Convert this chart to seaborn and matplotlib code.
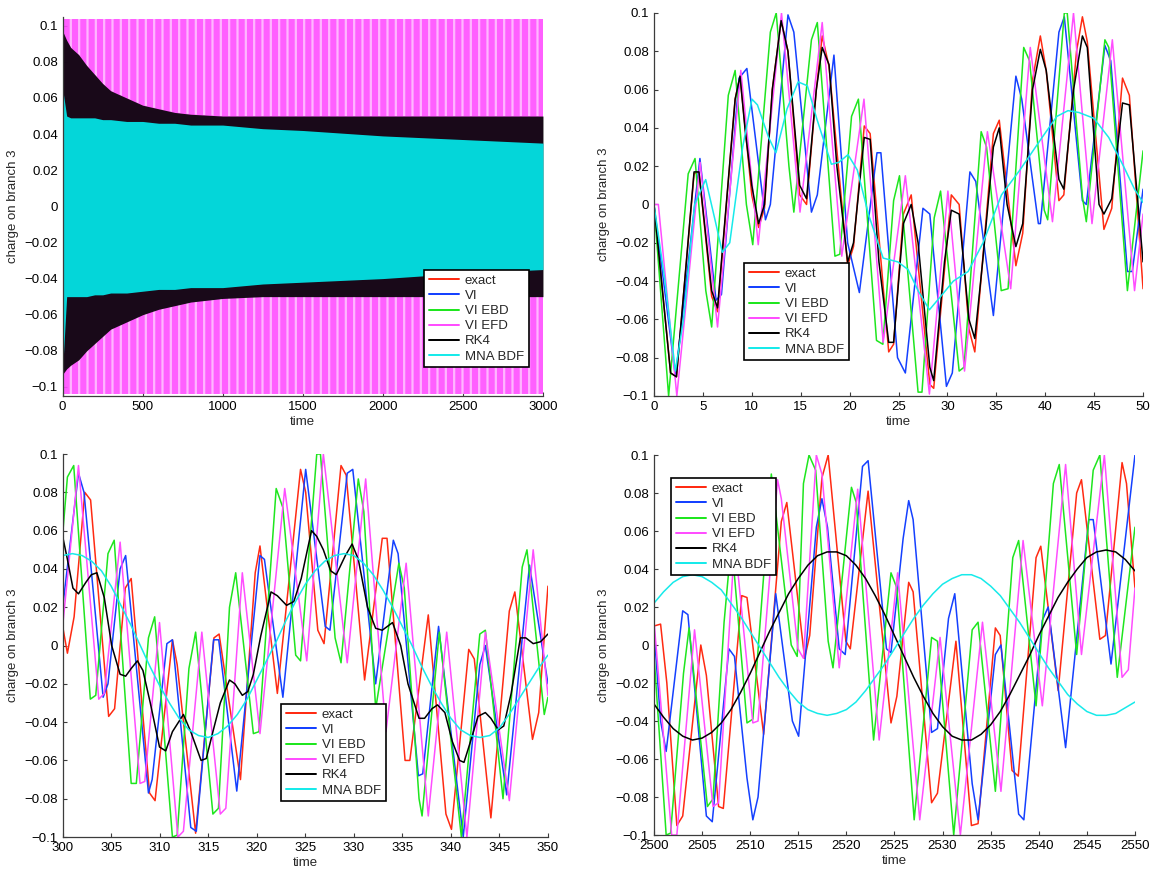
import numpy as np
import pandas as pd
import matplotlib
matplotlib.use("Agg")
import matplotlib.pyplot as plt
from matplotlib.lines import Line2D
import seaborn as sns

# ---------------- data ----------------
series_names = ["exact", "VI", "VI EBD", "VI EFD", "RK4", "MNA BDF"]
series_colors = ["#ff2a12", "#1440ff", "#1ee61e", "#ff4dff", "#000000", "#17eaea"]

y_ticks = [-0.1, -0.08, -0.06, -0.04, -0.02, 0.0, 0.02, 0.04, 0.06, 0.08, 0.1]
y_tick_labels = ["\u22120.1", "\u22120.08", "\u22120.06", "\u22120.04", "\u22120.02", "0",
                 "0.02", "0.04", "0.06", "0.08", "0.1"]
tl_x_ticks = [0, 500, 1000, 1500, 2000, 2500, 3000]
tr_x_ticks = [0, 5, 10, 15, 20, 25, 30, 35, 40, 45, 50]
bl_x_ticks = [300, 305, 310, 315, 320, 325, 330, 335, 340, 345, 350]
br_x_ticks = [2500, 2505, 2510, 2515, 2520, 2525, 2530, 2535, 2540, 2545, 2550]

# --- panel 1 (0..3000): only the envelopes of the dense oscillations are readable
tl_time = [0, 25, 50, 100, 150, 200, 250, 300, 400, 500, 600, 700, 800, 1000, 1250, 1500, 2000, 2500, 3000]
tl_efd_hi = [0.104] * 19
tl_efd_lo = [-0.104] * 19
tl_rk4_hi = [0.097, 0.092, 0.088, 0.084, 0.078, 0.073, 0.068, 0.064, 0.060, 0.056, 0.054, 0.052, 0.051,
             0.050, 0.050, 0.050, 0.050, 0.050, 0.050]
tl_rk4_lo = [-0.093, -0.090, -0.088, -0.085, -0.080, -0.076, -0.072, -0.068, -0.064, -0.060, -0.057, -0.055,
             -0.053, -0.051, -0.050, -0.050, -0.050, -0.050, -0.050]
tl_mna_hi = [0.065, 0.050, 0.049, 0.049, 0.049, 0.049, 0.048, 0.048, 0.047, 0.047, 0.046, 0.046, 0.045,
             0.045, 0.043, 0.042, 0.039, 0.037, 0.035]
tl_mna_lo = [-0.090, -0.050, -0.050, -0.050, -0.050, -0.049, -0.049, -0.048, -0.048, -0.047, -0.046, -0.046,
             -0.045, -0.045, -0.043, -0.042, -0.040, -0.037, -0.035]

# --- panel 2 (0..50): (time, charge) vertices
tr_exact = [(0, 0), (1.7, -0.088), (2.3, -0.090), (4.1, 0.016), (4.6, 0.017), (5.9, -0.048), (6.5, -0.056),
            (8.3, 0.055), (8.8, 0.067), (10.0, 0.005), (10.7, -0.012), (11.3, -0.002), (12.1, 0.060),
            (13.0, 0.096), (13.7, 0.080), (14.9, 0.005), (15.6, 0.000), (16.6, 0.060), (17.2, 0.088),
            (17.9, 0.072), (19.8, -0.032), (20.4, -0.022), (21.5, 0.041), (22.1, 0.037), (24.0, -0.077),
            (24.5, -0.073), (25.5, -0.005), (26.3, 0.005), (28.2, -0.094), (28.6, -0.096), (30.4, 0.005),
            (31.2, 0.000), (32.2, -0.065), (32.8, -0.077), (34.7, 0.037), (35.3, 0.044), (37.0, -0.032),
            (37.7, -0.015), (38.7, 0.065), (39.5, 0.088), (40.1, 0.070), (41.4, 0.002), (41.9, 0.005),
            (43.2, 0.080), (43.8, 0.098), (44.3, 0.085), (46.0, -0.013), (46.8, -0.002), (47.9, 0.066),
            (48.6, 0.057), (50, -0.044)]
tr_vi = [(0, 0), (2.2, -0.090), (4.7, 0.024), (6.35, -0.050), (6.9, -0.047), (8.7, 0.066), (9.5, 0.071),
         (11.4, -0.008), (11.9, 0.000), (13.7, 0.099), (14.3, 0.090), (16.1, -0.004), (16.7, 0.005),
         (18.4, 0.078), (19.8, -0.020), (21.0, -0.046), (22.8, 0.027), (23.2, 0.027), (24.9, -0.080),
         (25.7, -0.088), (27.5, -0.002), (28.2, -0.005), (29.9, -0.095), (30.5, -0.088), (32.3, 0.017),
         (32.9, 0.012), (34.7, -0.058), (37.0, 0.067), (37.6, 0.055), (39.3, -0.010), (39.5, -0.010),
         (41.4, 0.090), (41.95, 0.098), (43.8, 0.002), (44.2, 0.000), (46.1, 0.083), (46.7, 0.075),
         (48.4, -0.035), (48.9, -0.035), (50, 0.008)]
tr_ebd = [(0, 0), (1.5, -0.100), (3.5, 0.016), (4.2, 0.024), (5.3, -0.045), (5.9, -0.064), (7.6, 0.057),
          (8.3, 0.070), (9.45, 0.000), (10.1, -0.021), (11.9, 0.090), (12.5, 0.100), (13.8, 0.020),
          (14.3, -0.004), (16.1, 0.086), (16.7, 0.095), (18.5, -0.027), (19.0, -0.026), (20.2, 0.046),
          (20.9, 0.055), (22.75, -0.071), (23.4, -0.073), (24.5, 0.002), (25.1, 0.015), (27.0, -0.098),
          (27.4, -0.098), (28.65, -0.007), (29.3, 0.007), (31.2, -0.087), (31.7, -0.085), (33.45, 0.038),
          (34.0, 0.030), (35.5, -0.045), (36.2, -0.044), (37.8, 0.082), (38.4, 0.075), (39.9, -0.003),
          (40.25, -0.008), (41.95, 0.100), (42.25, 0.100), (43.8, 0.004), (44.2, -0.009), (46.1, 0.086),
          (46.5, 0.082), (48.4, -0.045), (50, 0.028)]
tr_efd = [(0, 0), (0.45, 0), (2.34, -0.100), (4.72, 0.022), (6.5, -0.064), (8.88, 0.070), (10.66, -0.021),
          (13.04, 0.100), (14.93, -0.004), (17.2, 0.095), (19.2, -0.027), (21.47, 0.055), (23.43, -0.072),
          (25.7, 0.015), (28.16, -0.099), (30.05, 0.007), (31.75, -0.087), (34.09, 0.038), (36.47, -0.044),
          (38.47, 0.082), (40.74, -0.009), (42.89, 0.100), (44.78, -0.010), (46.86, 0.086), (49.13, -0.045),
          (50, -0.005)]
tr_rk4 = [(0, 0), (1.7, -0.088), (2.3, -0.090), (4.1, 0.017), (4.6, 0.017), (5.9, -0.045), (6.5, -0.054),
          (8.3, 0.055), (8.8, 0.067), (9.3, 0.040), (10.0, 0.010), (10.7, -0.010), (11.3, 0.000),
          (12.1, 0.060), (13.0, 0.096), (13.7, 0.080), (14.9, 0.010), (15.6, 0.003), (16.6, 0.060),
          (17.2, 0.082), (17.9, 0.073), (18.7, 0.020), (19.8, -0.030), (20.4, -0.020), (21.5, 0.035),
          (22.1, 0.034), (23.0, -0.030), (24.0, -0.072), (24.5, -0.072), (25.5, -0.010), (26.3, 0.000),
          (27.0, -0.020), (28.2, -0.085), (28.6, -0.092), (29.7, -0.030), (30.4, -0.003), (31.2, -0.005),
          (32.2, -0.060), (32.8, -0.070), (33.6, -0.030), (34.7, 0.030), (35.3, 0.040), (36.1, 0.000),
          (37.0, -0.022), (37.7, -0.010), (38.7, 0.060), (39.5, 0.081), (40.1, 0.070), (41.4, 0.013),
          (41.9, 0.008), (42.9, 0.060), (43.8, 0.088), (44.3, 0.082), (45.5, 0.000), (46.0, -0.005),
          (46.8, 0.003), (47.9, 0.053), (48.6, 0.052), (50, -0.030)]
tr_mna = [(0, 0), (1.13, -0.040), (2.19, -0.087), (3.02, -0.060), (4.16, 0.000), (5.29, 0.013),
          (6.24, -0.008), (6.99, -0.025), (7.75, -0.020), (9.07, 0.030), (10.02, 0.055), (10.58, 0.052),
          (11.72, 0.035), (12.47, 0.027), (13.61, 0.050), (14.74, 0.064), (15.68, 0.062), (16.63, 0.045),
          (18.14, 0.021), (18.9, 0.022), (19.84, 0.026), (20.79, 0.018), (21.92, -0.005), (23.43, -0.028),
          (24.94, -0.030), (25.98, -0.034), (27.0, -0.045), (28.16, -0.055), (29.48, -0.047),
          (30.61, -0.040), (32.12, -0.035), (33.64, -0.020), (35.53, 0.005), (37.41, 0.018), (39.68, 0.035),
          (41.19, 0.046), (42.33, 0.049), (43.46, 0.048), (44.97, 0.045), (46.49, 0.035), (48.0, 0.020),
          (49.13, 0.008), (50, 0.001)]

# --- panel 3 (300..350)
bl_exact = [(300, 0.010), (300.49, -0.004), (301.18, 0.015), (302.28, 0.080), (302.88, 0.076),
            (304.74, -0.037), (305.35, -0.033), (306.45, 0.030), (307.06, 0.035), (308.95, -0.077),
            (309.52, -0.081), (311.31, 0.003), (311.8, -0.010), (313.7, -0.098), (315.59, 0.004),
            (316.12, 0.006), (318.32, -0.070), (319.84, 0.038), (320.33, 0.052), (322.12, -0.025),
            (324.51, 0.092), (325.04, 0.080), (326.29, 0.008), (326.93, 0.001), (328.68, 0.094),
            (329.21, 0.089), (331.11, -0.018), (332.93, 0.056), (333.42, 0.056), (335.28, -0.060),
            (335.77, -0.060), (337.67, 0.016), (339.49, -0.088), (340.06, -0.096), (341.84, -0.002),
            (342.41, -0.007), (344.12, -0.090), (346.02, 0.018), (346.59, 0.028), (348.41, -0.049),
            (349.05, -0.035), (350, 0.031)]
bl_vi = [(300, 0.020), (301.63, 0.090), (302.2, 0.080), (304.17, -0.027), (304.67, -0.020), (305.92, 0.040),
         (306.49, 0.047), (308.84, -0.077), (309.22, -0.070), (310.74, 0.001), (311.31, 0.003),
         (313.2, -0.095), (313.77, -0.097), (315.55, 0.003), (316.08, 0.003), (317.94, -0.076),
         (320.33, 0.047), (320.79, 0.045), (322.69, -0.027), (325.04, 0.092), (327.05, 0.010),
         (327.54, 0.008), (329.32, 0.090), (329.89, 0.092), (332.25, -0.020), (334.07, 0.055),
         (334.56, 0.048), (336.65, -0.068), (337.1, -0.067), (338.73, 0.010), (341.27, -0.100),
         (342.98, -0.010), (343.55, 0.000), (345.75, -0.078), (348.1, 0.042), (350, -0.020)]
bl_ebd = [(300, 0.058), (300.49, 0.088), (301.14, 0.094), (302.85, -0.028), (303.41, -0.026), (304.67, 0.048),
          (305.31, 0.055), (307.06, -0.072), (307.59, -0.072), (308.84, 0.004), (309.48, 0.015),
          (311.31, -0.100), (311.8, -0.099), (313.01, -0.012), (313.7, 0.007), (315.48, -0.088),
          (316.05, -0.085), (317.19, 0.020), (317.83, 0.038), (319.65, -0.046), (320.22, -0.045),
          (322.0, 0.082), (322.69, 0.072), (324.01, -0.005), (324.51, -0.008), (326.18, 0.100),
          (326.56, 0.100), (328.07, 0.004), (328.68, -0.009), (330.46, 0.087), (331.03, 0.070),
          (332.25, -0.033), (334.64, 0.043), (335.2, 0.030), (336.72, -0.080), (337.03, -0.089),
          (338.81, 0.007), (341.08, -0.100), (342.98, 0.006), (343.55, 0.008), (345.37, -0.080),
          (347.35, 0.041), (347.84, 0.050), (349.62, -0.036), (350, -0.027)]
bl_efd = [(300, 0.010), (301.63, 0.094), (303.72, -0.028), (304.29, -0.025), (305.92, 0.054), (307.97, -0.072),
          (308.46, -0.071), (309.98, 0.012), (311.87, -0.100), (312.44, -0.097), (314.34, 0.007),
          (316.24, -0.088), (316.81, -0.085), (318.51, 0.038), (320.33, -0.046), (322.88, 0.082),
          (325.15, -0.008), (326.86, 0.100), (329.32, -0.009), (331.22, 0.087), (333.31, -0.045),
          (335.39, 0.043), (337.67, -0.089), (339.57, 0.007), (341.65, -0.100), (343.55, 0.007),
          (346.02, -0.081), (348.48, 0.050), (350, -0.026)]
bl_rk4 = [(300, 0.057), (300.49, 0.045), (301.06, 0.030), (301.63, 0.027), (302.39, 0.033), (302.96, 0.037),
          (303.53, 0.038), (304.29, 0.025), (305.05, 0.000), (305.92, -0.015), (306.49, -0.016),
          (307.06, -0.012), (307.7, -0.008), (308.27, -0.013), (309.03, -0.030), (309.98, -0.053),
          (310.62, -0.055), (311.31, -0.045), (312.44, -0.036), (313.2, -0.045), (314.26, -0.060),
          (314.8, -0.059), (315.48, -0.045), (316.24, -0.030), (317.19, -0.018), (317.75, -0.020),
          (318.51, -0.026), (319.08, -0.024), (319.65, -0.015), (320.41, 0.005), (321.47, 0.028),
          (322.12, 0.026), (323.07, 0.021), (323.82, 0.023), (324.58, 0.035), (325.64, 0.060),
          (326.18, 0.057), (326.86, 0.050), (327.62, 0.039), (328.19, 0.037), (329.13, 0.047),
          (329.82, 0.053), (330.46, 0.045), (331.41, 0.020), (332.25, 0.009), (332.93, 0.008),
          (333.99, 0.012), (334.83, 0.000), (335.58, -0.020), (336.72, -0.038), (337.29, -0.038),
          (338.05, -0.033), (338.62, -0.031), (339.38, -0.035), (340.14, -0.050), (340.9, -0.060),
          (341.35, -0.061), (342.03, -0.050), (342.79, -0.037), (343.55, -0.035), (344.12, -0.038),
          (344.88, -0.044), (345.45, -0.042), (346.21, -0.025), (347.16, 0.004), (347.72, 0.004),
          (348.48, 0.001), (349.24, 0.002), (350, 0.006)]
bl_mna_t = [300, 301, 302, 303, 304, 305, 306, 307, 308, 309, 310, 311, 312, 313, 314, 315, 316, 317,
            318, 319, 320, 321, 322, 323, 324, 325, 326, 327, 328, 329, 330, 331, 332, 333, 334, 335,
            336, 337, 338, 339, 340, 341, 342, 343, 344, 345, 346, 347, 348, 349, 350]
bl_mna_v = [0.047, 0.048, 0.047, 0.044, 0.039, 0.031, 0.021, 0.011, 0.000, -0.011, -0.021, -0.030, -0.038,
            -0.044, -0.047, -0.048, -0.046, -0.042, -0.036, -0.028, -0.018, -0.008, 0.002, 0.013, 0.023,
            0.032, 0.039, 0.044, 0.047, 0.048, 0.047, 0.043, 0.037, 0.029, 0.020, 0.010, 0.000, -0.011,
            -0.021, -0.030, -0.038, -0.044, -0.047, -0.048, -0.047, -0.043, -0.036, -0.028, -0.020,
            -0.012, -0.005]

# --- panel 4 (2500..2550)
br_exact = [(2500, 0.010), (2500.69, 0.011), (2501.34, -0.020), (2502.38, -0.095), (2502.99, -0.090),
            (2504.87, 0.000), (2505.45, -0.016), (2506.72, -0.085), (2507.21, -0.086), (2509.13, 0.026),
            (2509.67, 0.025), (2511.4, -0.047), (2513.24, 0.065), (2513.81, 0.075), (2515.66, -0.007),
            (2516.19, 0.005), (2517.46, 0.088), (2518.11, 0.100), (2519.95, 0.002), (2520.41, -0.002),
            (2522.26, 0.081), (2524.64, -0.041), (2525.25, -0.027), (2526.48, 0.033), (2526.94, 0.028),
            (2528.86, -0.083), (2529.47, -0.078), (2531.39, 0.002), (2533.0, -0.095), (2533.69, -0.094),
            (2535.49, 0.009), (2535.99, 0.005), (2537.22, -0.066), (2537.87, -0.069), (2539.72, 0.046),
            (2540.21, 0.052), (2542.02, -0.024), (2543.94, 0.080), (2544.44, 0.087), (2546.35, 0.003),
            (2546.93, 0.005), (2548.66, 0.096), (2549.12, 0.085), (2550, 0.030)]
br_vi = [(2500, 0.008), (2500.69, -0.040), (2501.27, -0.056), (2502.99, 0.018), (2503.53, 0.016),
         (2505.45, -0.090), (2506.06, -0.093), (2507.79, -0.002), (2508.37, -0.006), (2509.67, -0.070),
         (2510.28, -0.092), (2510.82, -0.080), (2512.66, 0.027), (2514.39, -0.040), (2515.04, -0.048),
         (2516.88, 0.062), (2517.46, 0.077), (2518.04, 0.062), (2519.26, -0.002), (2519.88, -0.005),
         (2521.68, 0.094), (2522.26, 0.097), (2524.17, -0.002), (2524.64, -0.004), (2525.9, 0.056),
         (2526.48, 0.076), (2526.94, 0.066), (2528.86, -0.046), (2529.47, -0.044), (2530.62, 0.014),
         (2531.27, 0.027), (2533.08, -0.073), (2533.69, -0.092), (2535.49, -0.005), (2536.07, 0.000),
         (2537.91, -0.089), (2538.45, -0.092), (2540.37, 0.013), (2540.98, 0.020), (2542.79, -0.054),
         (2545.2, 0.066), (2545.66, 0.066), (2547.51, -0.010), (2550, 0.100)]
br_ebd = [(2500, -0.005), (2501.27, -0.100), (2501.73, -0.099), (2503.07, -0.015), (2503.65, 0.009),
          (2505.56, -0.085), (2506.14, -0.081), (2507.29, 0.012), (2508.06, 0.055), (2509.67, -0.041),
          (2510.28, -0.039), (2512.2, 0.090), (2514.27, 0.000), (2514.89, -0.006), (2515.54, 0.085),
          (2516.12, 0.100), (2516.81, 0.092), (2518.11, 0.002), (2518.61, -0.012), (2520.53, 0.083),
          (2521.03, 0.075), (2522.83, -0.050), (2524.64, 0.038), (2525.25, 0.030), (2527.05, -0.092),
          (2528.86, 0.004), (2529.47, 0.002), (2531.16, -0.100), (2533.08, 0.008), (2533.69, 0.012),
          (2535.49, -0.077), (2537.3, 0.046), (2537.91, 0.055), (2539.72, -0.032), (2541.52, 0.085),
          (2542.13, 0.095), (2543.94, -0.005), (2545.66, 0.092), (2546.35, 0.100), (2548.16, -0.017),
          (2550, 0.062)]
br_efd = [(2500, 0.013), (2501.84, -0.100), (2502.38, -0.100), (2504.22, 0.008), (2506.14, -0.085),
          (2506.72, -0.083), (2508.4, 0.055), (2510.28, -0.041), (2510.82, -0.040), (2512.85, 0.087),
          (2513.24, 0.077), (2514.97, -0.002), (2515.54, -0.007), (2516.88, 0.100), (2517.46, 0.090),
          (2519.26, -0.012), (2521.18, 0.082), (2523.41, -0.050), (2525.33, 0.038), (2527.63, -0.092),
          (2529.74, 0.004), (2531.85, -0.100), (2534.15, 0.012), (2536.07, -0.077), (2538.37, 0.055),
          (2540.37, -0.032), (2542.79, 0.095), (2544.44, -0.005), (2546.82, 0.100), (2548.66, -0.017),
          (2549.31, -0.013), (2550, 0.030)]
br_smooth_t = [2500, 2501, 2502, 2503, 2504, 2505, 2506, 2507, 2508, 2509, 2510, 2511, 2512, 2513, 2514,
               2515, 2516, 2517, 2518, 2519, 2520, 2521, 2522, 2523, 2524, 2525, 2526, 2527, 2528, 2529,
               2530, 2531, 2532, 2533, 2534, 2535, 2536, 2537, 2538, 2539, 2540, 2541, 2542, 2543, 2544,
               2545, 2546, 2547, 2548, 2549, 2550]
br_rk4_v = [-0.031, -0.038, -0.044, -0.048, -0.050, -0.049, -0.046, -0.041, -0.034, -0.025, -0.015, -0.004,
            0.007, 0.017, 0.027, 0.035, 0.042, 0.047, 0.049, 0.049, 0.047, 0.042, 0.035, 0.026, 0.016, 0.005,
            -0.006, -0.017, -0.027, -0.036, -0.043, -0.048, -0.050, -0.050, -0.047, -0.042, -0.035, -0.026,
            -0.016, -0.006, 0.005, 0.015, 0.025, 0.033, 0.040, 0.046, 0.049, 0.050, 0.049, 0.045, 0.039]
br_mna_v = [0.022, 0.028, 0.033, 0.036, 0.037, 0.036, 0.033, 0.029, 0.022, 0.015, 0.007, -0.001, -0.009,
            -0.017, -0.024, -0.030, -0.034, -0.036, -0.037, -0.036, -0.034, -0.030, -0.024, -0.017, -0.010,
            -0.002, 0.006, 0.014, 0.021, 0.027, 0.032, 0.035, 0.037, 0.037, 0.035, 0.031, 0.026, 0.019,
            0.012, 0.004, -0.004, -0.012, -0.019, -0.026, -0.031, -0.035, -0.037, -0.037, -0.036, -0.033,
            -0.030]

# ---------------- styling ----------------
sns.set_style("ticks")
plt.rcParams["font.family"] = ["Liberation Sans", "DejaVu Sans"]
plt.rcParams.update({
    "font.size": 9.5,
    "axes.edgecolor": "#3c3c3c",
    "axes.linewidth": 0.9,
    "xtick.direction": "in",
    "ytick.direction": "in",
    "xtick.major.size": 3.2,
    "ytick.major.size": 3.2,
    "xtick.color": "#3c3c3c",
    "ytick.color": "#3c3c3c",
    "xtick.labelcolor": "black",
    "ytick.labelcolor": "black",
    "xtick.labelsize": 9.5,
    "ytick.labelsize": 9.5,
    "axes.labelsize": 9.5,
    "hatch.linewidth": 1.6,
})

fig = plt.figure(figsize=(11.56, 8.71), dpi=100)
LW = 1.1

ax_tl = fig.add_axes([0.0542, 0.5454, 0.4155, 0.4354])
ax_tr = fig.add_axes([0.5657, 0.5454, 0.4231, 0.4397])
ax_bl = fig.add_axes([0.0542, 0.0390, 0.4198, 0.4397])
ax_br = fig.add_axes([0.5657, 0.0413, 0.4161, 0.4363])


def draw_lines(ax, series):
    for (name, color), pts in zip(zip(series_names, series_colors), series):
        df = pd.DataFrame(pts, columns=["time", "charge"])
        sns.lineplot(data=df, x="time", y="charge", ax=ax, color=color, linewidth=LW,
                     label=name, sort=False, estimator=None)


def finish(ax, xlim, xticks, ylim, legend_xy):
    ax.set_xlim(*xlim)
    ax.set_ylim(*ylim)
    ax.set_xticks(xticks)
    ax.set_xticklabels([str(v) for v in xticks])
    ax.set_yticks(y_ticks)
    ax.set_yticklabels(y_tick_labels)
    ax.set_xlabel("time", labelpad=2)
    ax.set_ylabel("charge on branch 3", labelpad=4)
    sns.despine(ax=ax)
    handles = [Line2D([0], [0], color=c, lw=LW * 1.3) for c in series_colors]
    leg = ax.legend(handles, series_names, loc="upper left", bbox_to_anchor=legend_xy,
                    bbox_transform=fig.transFigure, borderaxespad=0, frameon=True, fancybox=False,
                    edgecolor="black", framealpha=1, fontsize=9.5, handlelength=2.3,
                    handletextpad=0.45, labelspacing=0.22, borderpad=0.35)
    leg.get_frame().set_linewidth(1.2)


# panel 1: dense oscillation envelopes (individual periods are not resolvable)
ax_tl.fill_between(tl_time, tl_efd_lo, tl_efd_hi, color=series_colors[3], alpha=0.9, linewidth=0)
ax_tl.fill_between(tl_time, tl_rk4_hi, tl_efd_hi, facecolor="none", edgecolor="white", hatch="||",
                   linewidth=0, alpha=0.55)
ax_tl.fill_between(tl_time, tl_efd_lo, tl_rk4_lo, facecolor="none", edgecolor="white", hatch="||",
                   linewidth=0, alpha=0.55)
ax_tl.fill_between(tl_time, tl_rk4_lo, tl_rk4_hi, color=series_colors[4], alpha=0.9, linewidth=0)
ax_tl.fill_between(tl_time, tl_mna_lo, tl_mna_hi, color="#00ffff", alpha=0.84, linewidth=0)
finish(ax_tl, (0, 3000), tl_x_ticks, (-0.105, 0.105), (0.3668, 0.690))

draw_lines(ax_tr, [tr_exact, tr_vi, tr_ebd, tr_efd, tr_rk4, tr_mna])
finish(ax_tr, (0, 50), tr_x_ticks, (-0.1, 0.1), (0.6436, 0.698))

draw_lines(ax_bl, [bl_exact, bl_vi, bl_ebd, bl_efd, bl_rk4, list(zip(bl_mna_t, bl_mna_v))])
finish(ax_bl, (300, 350), bl_x_ticks, (-0.1, 0.1), (0.2431, 0.1917))

draw_lines(ax_br, [br_exact, br_vi, br_ebd, br_efd, list(zip(br_smooth_t, br_rk4_v)),
                   list(zip(br_smooth_t, br_mna_v))])
finish(ax_br, (2500, 2550), br_x_ticks, (-0.1, 0.1), (0.5804, 0.4512))

fig.savefig("out.png", dpi=100)
